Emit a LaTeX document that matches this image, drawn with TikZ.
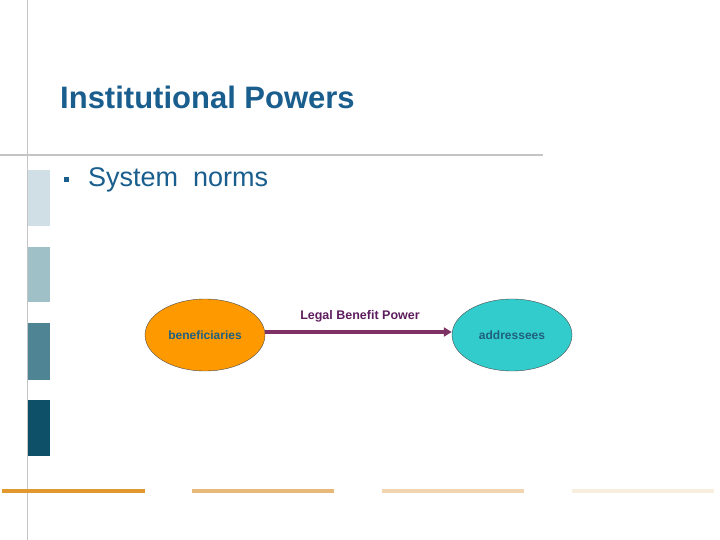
\documentclass[tikz,border=0pt]{standalone}
\usepackage{fontspec}
\setmainfont{Liberation Sans}
\usetikzlibrary{shapes.geometric, arrows.meta}
\definecolor{title-blue}{HTML}{1A5E8E}
\definecolor{label-teal}{HTML}{1F6080}
\definecolor{rule-gray}{HTML}{C4C4C4}
\definecolor{link-plum}{HTML}{7E3163}
\definecolor{text-plum}{HTML}{5E1E5E}
\definecolor{ben-orange}{HTML}{FF9900}
\definecolor{addr-cyan}{HTML}{33CCCC}
\definecolor{bar-a}{HTML}{D0DEE5}
\definecolor{bar-b}{HTML}{A0C0C8}
\definecolor{bar-c}{HTML}{4E8494}
\definecolor{bar-d}{HTML}{0D5068}
\definecolor{line-a}{HTML}{E0982F}
\definecolor{line-b}{HTML}{E8B87A}
\definecolor{line-c}{HTML}{F0D5B0}
\definecolor{line-d}{HTML}{F8EEDD}

\begin{document}
\begin{tikzpicture}[x=1pt, y=-1pt, every node/.style={inner sep=0pt}]
    \useasboundingbox[fill=white] (0,0) rectangle (720,540);
    \draw[rule-gray, line width=0.8pt] (27,0) -- (27,540);
    \draw[rule-gray, line width=1.5pt] (0,155) -- (543,155);
    \fill[bar-a] (28,170) rectangle (50,226);
    \fill[bar-b] (28,247) rectangle (50,302);
    \fill[bar-c] (28,323) rectangle (50,380);
    \fill[bar-d] (28,400) rectangle (50,456);
    \node[anchor=west, text=title-blue, font=\fontsize{31}{36}\selectfont\bfseries]
      (ttl) at (60,97) {Institutional Powers};
    \node[fill=title-blue, minimum size=5pt] (blt) at (66.5,180) {};
    \node[anchor=west, text=title-blue, font=\fontsize{27}{32}\selectfont]
      (sys) at (88,180) {System\ \ norms};
    \node[draw=black!70, fill=ben-orange, ellipse, minimum width=120pt,
      minimum height=72pt, text=label-teal,
      font=\fontsize{12}{14}\selectfont\bfseries] (ben) at (205,335) {beneficiaries};
    \node[draw=black!70, fill=addr-cyan, ellipse, minimum width=120pt,
      minimum height=72pt, text=label-teal,
      font=\fontsize{12}{14}\selectfont\bfseries] (addr) at (512,335) {addressees};
    \draw[-{Triangle[length=8pt, width=9pt]}, line width=3.2pt, color=link-plum]
      ([yshift=3pt]ben.east) -- ([yshift=3pt]addr.west);
    \node[text=text-plum, font=\fontsize{12.5}{14}\selectfont\bfseries]
      (lbp) at (360,316) {Legal Benefit Power};
    \draw[line-a, line width=4.5pt] (2,491) -- (145,491);
    \draw[line-b, line width=4.5pt] (192,491) -- (334,491);
    \draw[line-c, line width=4.5pt] (382,491) -- (524,491);
    \draw[line-d, line width=4.5pt] (572,491) -- (714,491);
\end{tikzpicture}
\end{document}
